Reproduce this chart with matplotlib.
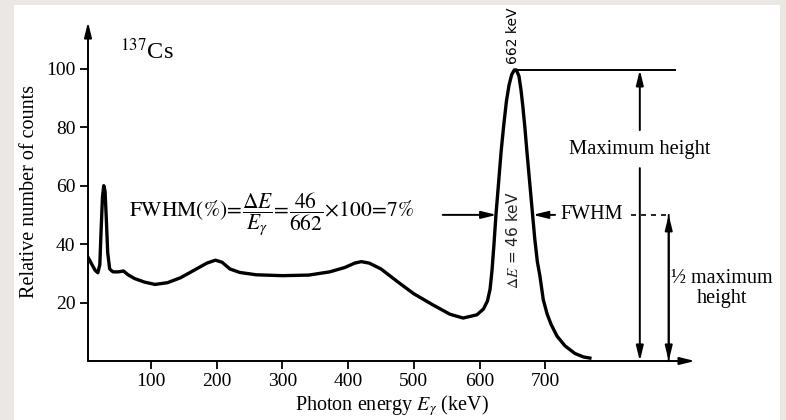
import numpy as np
import matplotlib
matplotlib.use("Agg")
import matplotlib.pyplot as plt
from matplotlib.patches import Rectangle

plt.rcParams['font.family'] = ['Liberation Serif', 'DejaVu Serif']
plt.rcParams['mathtext.fontset'] = 'stix'

# spectrum (keV, relative counts)
energy = [4, 10, 15, 19, 22, 24, 26, 28, 30, 32, 34, 37, 42, 50, 58, 65, 75, 90,
          106, 125, 145, 165, 185, 198, 208, 220, 235, 260, 300, 340, 372, 395,
          410, 420, 432, 450, 476, 500, 529, 555, 575, 596, 606, 612, 616, 619,
          622, 625, 629, 633, 637, 641, 645, 649, 653, 656, 660, 663, 666, 669, 672,
          676, 680, 684, 688, 692, 697, 703, 709, 718, 730, 745, 758, 768]
counts = [35.5, 33, 31, 30.2, 33, 45, 56, 60, 58, 48, 37, 31.5, 30.5, 30.5, 30.8,
          29.5, 28.2, 27, 26.2, 26.8, 28.5, 31, 33.5, 34.5, 33.8, 31.5, 30.3,
          29.5, 29.2, 29.4, 30.5, 32, 33.5, 34, 33.5, 31.5, 27, 23, 19.2, 16,
          14.7, 15.8, 17.8, 20.5, 24.5, 31, 40, 50, 61, 72, 81, 89, 94.5, 98, 99.6, 99.6,
          97.5, 93, 87, 80, 72, 62, 52, 42, 34, 29, 21, 16, 12.5, 8.5, 5.2, 2.6, 1.4, 1]

xticks = [100, 200, 300, 400, 500, 600, 700]
yticks = [20, 40, 60, 80, 100]
peak_e = 654
peak_h = 99.6
half_h = 50

fig = plt.figure(figsize=(7.86, 4.2), dpi=100, facecolor='#ebe8e3')
fig.patches.append(Rectangle((14/786, 0), (780-14)/786, 415/420, transform=fig.transFigure,
                             facecolor='white', edgecolor='none', zorder=-5))
ax = fig.add_axes([88/786, 59/420, 607/786, 339/420])
ax.set_facecolor('none')
ax.set_xlim(4, 928)
ax.set_ylim(0, 116)
for s in ax.spines.values():
    s.set_visible(False)

arrow = dict(arrowstyle='-|>,head_width=0.22,head_length=0.9', color='k', lw=1.4,
             shrinkA=0, shrinkB=0)
ax.annotate('', xy=(1, 0), xytext=(0, 0), xycoords='axes fraction', arrowprops=arrow)
ax.annotate('', xy=(0, 1), xytext=(0, 0), xycoords='axes fraction', arrowprops=arrow)

ax.plot(energy, counts, color='k', lw=2.4, solid_joinstyle='round')

ax.set_xticks(xticks)
ax.set_yticks(yticks)
ax.tick_params(direction='out', length=6, width=1.3, labelsize=14, pad=3)
ax.set_xlabel(r'Photon energy $E_\gamma$ (keV)', fontsize=14.5, labelpad=2)
ax.set_ylabel('Relative number of counts', fontsize=14.5, labelpad=5)

ax.text(93, 106, r'$^{137}$Cs', fontsize=17.5, ha='center', va='center')

# peak markers
ax.text(651, 101.5, '662 keV', rotation=90, ha='center', va='bottom',
        fontsize=10, family='DejaVu Sans')
ax.text(651, 41.5, r'$\Delta E$ = 46 keV', rotation=90, ha='center', va='center',
        fontsize=11, family='DejaVu Sans', color='#222222')
ax.plot([peak_e, 897], [peak_h, peak_h], color='k', lw=1.4)

# maximum height arrow
ax.annotate('', xy=(844, peak_h), xytext=(844, 79), arrowprops=arrow)
ax.annotate('', xy=(844, 0), xytext=(844, 66), arrowprops=arrow)
ax.text(844, 72.4, 'Maximum height', fontsize=14.8, ha='center', va='center')

# half maximum arrow
ax.annotate('', xy=(888, half_h), xytext=(888, 0), arrowprops=arrow)
ax.annotate('', xy=(888, 0), xytext=(888, half_h), arrowprops=arrow)
ax.plot([830, 888], [half_h, half_h], color='k', lw=1.2, ls=(0, (3, 3)))
ax.text(969, 24.7, '½ maximum\nheight', fontsize=14.5, ha='center', va='center',
        linespacing=1.05)

# FWHM arrows
ax.annotate('', xy=(681, half_h), xytext=(715, half_h), arrowprops=arrow)
ax.annotate('', xy=(626, half_h), xytext=(544, half_h), arrowprops=arrow)
ax.text(770, half_h, 'FWHM', fontsize=14.5, ha='center', va='center')
ax.text(284, half_h,
        r'$\mathrm{FWHM}(\%)\!=\!\dfrac{\Delta E}{E_{\gamma}}\!=\!\dfrac{46}{662}\!\times\!100\!=\!7\%$',
        fontsize=15.5, ha='center', va='center')

fig.savefig('out.png', dpi=100, facecolor=fig.get_facecolor())
